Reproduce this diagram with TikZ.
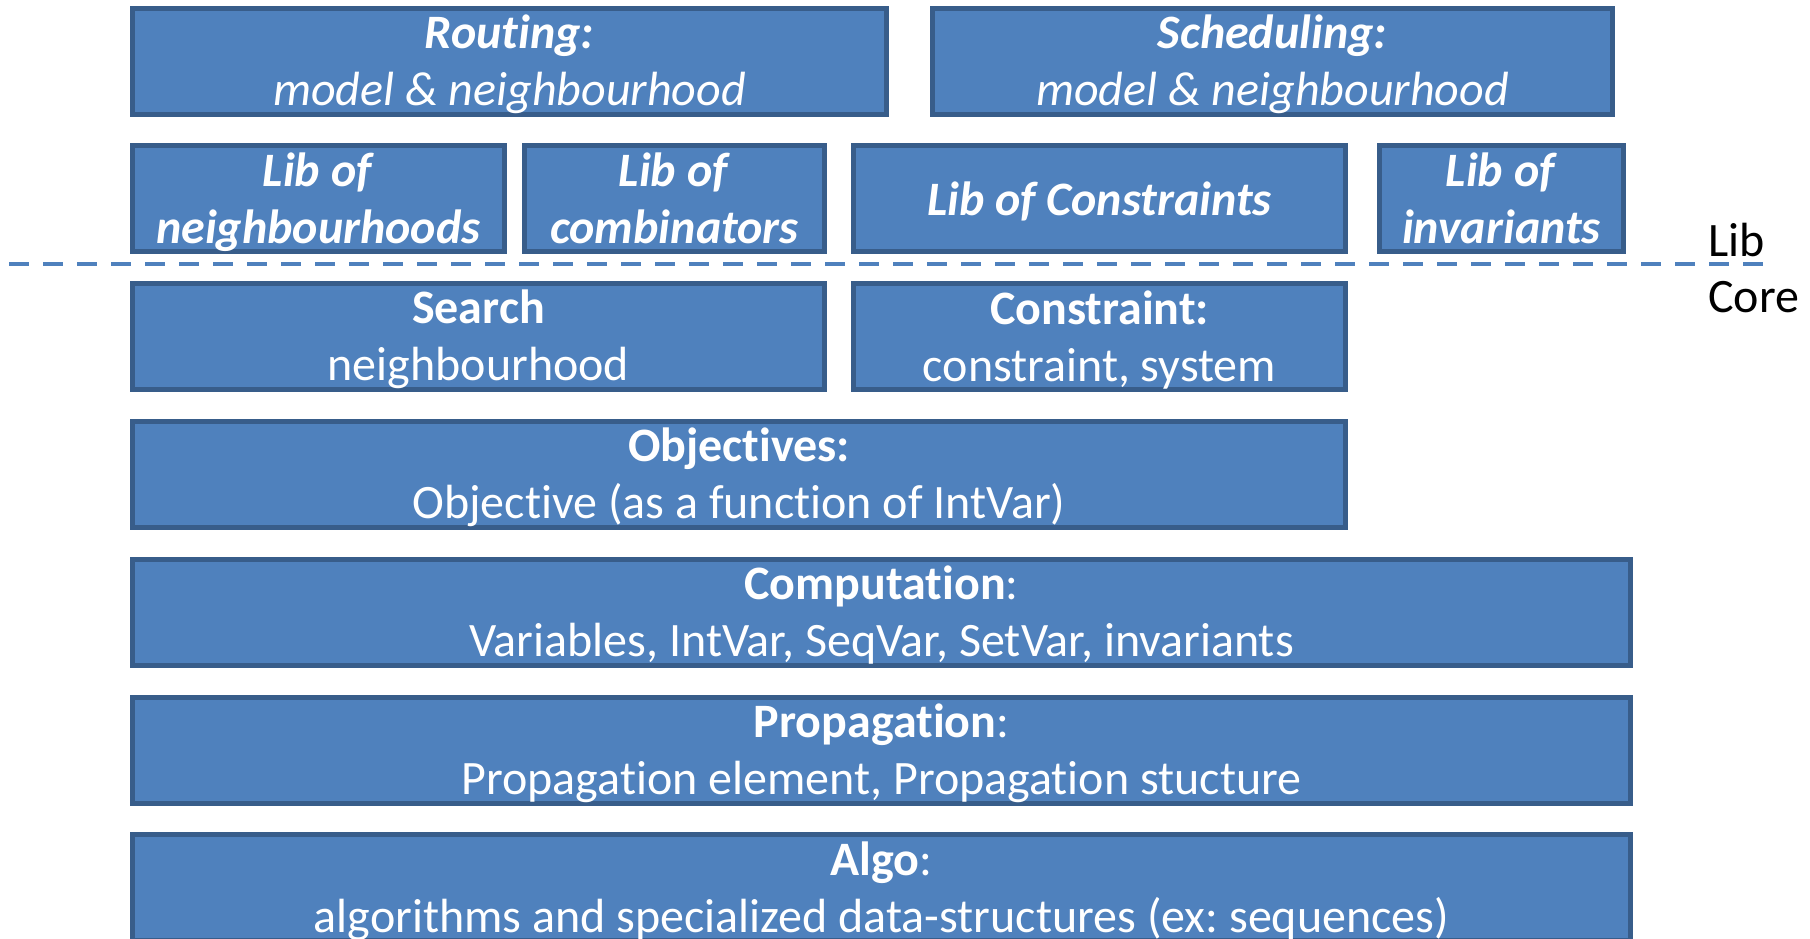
\documentclass[tikz,border=0pt]{standalone}
\usepackage{fontspec}
\setmainfont{Carlito}[Ligatures=NoCommon]
\usepackage{tikz}
\frenchspacing

\definecolor{layerfill}{HTML}{4F81BD}
\definecolor{layerline}{HTML}{385D8A}

% every line gets the same height and depth
\newcommand{\lstrut}{\rule[-7pt]{0pt}{47pt}}

\tikzset{
  layer/.style={draw=layerline, fill=layerfill, line width=5pt, text=white,
    align=center, inner sep=0pt, minimum height=106pt,
    font=\fontsize{48}{57}\selectfont},
  side/.style={inner sep=0pt, text=black, font=\fontsize{48}{57}\selectfont},
  divider/.style={draw=layerfill, line width=4.5pt, dash pattern=on 20pt off 14pt},
}

\begin{document}
\begin{tikzpicture}[x=1pt, y=-1pt]
    \useasboundingbox (0,0) rectangle (1810,938);

    % Lib part
    \node[layer, minimum width=754pt] (routing) at (509.5,61)
      {\lstrut\textbf{\textit{Routing:}}\\\lstrut\textit{model \& neighbourhood}};
    \node[layer, minimum width=680pt] (scheduling) at (1272.5,61)
      {\lstrut\textbf{\textit{Scheduling:}}\\\lstrut\textit{model \& neighbourhood}};

    \node[layer, minimum width=372pt] (libnbh) at (318.5,198.8)
      {\lstrut\textbf{\textit{Lib of}}\\\lstrut\textbf{\textit{neighbourhoods}}};
    \node[layer, minimum width=300pt] (libcomb) at (674.5,198.8)
      {\lstrut\textbf{\textit{Lib of}}\\\lstrut\textbf{\textit{combinators}}};
    \node[layer, minimum width=492pt] (libcons) at (1099.5,198.8)
      {\lstrut\textbf{\textit{Lib of Constraints}}};
    \node[layer, minimum width=244pt] (libinv) at (1501.5,198.8)
      {\lstrut\textbf{\textit{Lib of}}\\\lstrut\textbf{\textit{invariants}}};

    % separation
    \coordinate (sepL) at (9,264);
    \coordinate (sepR) at (1763,264);
    \draw[divider] (sepL) -- (sepR);
    \node[side, anchor=base west] (liblbl) at (1708,256) {Lib};
    \node[side, anchor=base west] (corelbl) at (1708,312) {Core};

    % Core part
    \node[layer, minimum width=692pt] (search) at (478.5,336.6)
      {\lstrut\textbf{Search}\\\lstrut neighbourhood};
    \node[layer, minimum width=492pt] (constraint) at (1099.5,336.6)
      {\lstrut\textbf{Constraint:}\\\lstrut constraint, system};

    \node[layer, minimum width=1213pt] (objectives) at (739,474.4)
      {\lstrut\textbf{Objectives:}\\\lstrut Objective (as a function of IntVar)};

    \node[layer, minimum width=1498pt] (computation) at (881.5,612.2)
      {\lstrut\textbf{Computation}:\\\lstrut Variables, IntVar, SeqVar, SetVar, invariants};
    \node[layer, minimum width=1498pt] (propagation) at (881.5,750)
      {\lstrut\textbf{Propagation}:\\\lstrut Propagation element, Propagation stucture};
    \node[layer, minimum width=1498pt] (algo) at (881.5,887.8)
      {\lstrut\textbf{Algo}:\\\lstrut algorithms and specialized data-structures (ex: sequences)};
\end{tikzpicture}
\end{document}
